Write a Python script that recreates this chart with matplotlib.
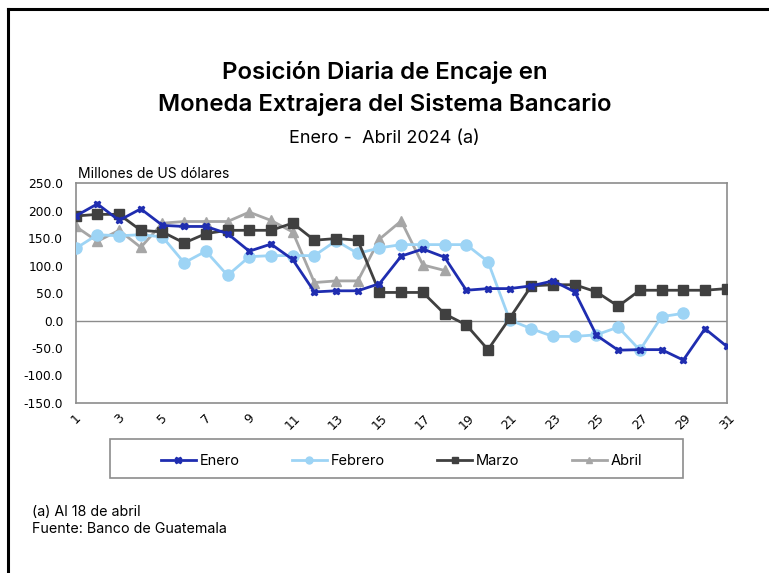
import matplotlib
matplotlib.use("Agg")
import matplotlib.pyplot as plt
from matplotlib.lines import Line2D
from matplotlib.patches import Rectangle

days_enero = list(range(1, 32))
days_febrero = list(range(1, 30))
days_marzo = list(range(1, 32))
days_abril = list(range(1, 19))

enero = [190, 212, 182, 203, 173, 171, 171, 158, 126, 139, 111,
         52, 54, 54, 67, 117, 130, 115, 55, 58, 58,
         63, 72, 52, -27, -54, -53, -53, -72, -15, -47]
febrero = [131, 156, 154, 156, 152, 105, 126, 82, 116, 118, 118,
           118, 145, 122, 132, 138, 138, 138, 138, 107, 1,
           -15, -29, -29, -26, -12, -54, 7, 13]
marzo = [190, 193, 193, 164, 161, 141, 158, 164, 164, 164, 177,
         146, 149, 146, 51, 51, 51, 12, -8, -53, 4,
         63, 65, 65, 52, 26, 55, 55, 55, 55, 58]
abril = [171, 144, 164, 133, 177, 180, 180, 180, 197, 182, 161,
         69, 72, 72, 148, 181, 101, 91]

xticks = list(range(1, 32, 2))
yticks = [250, 200, 150, 100, 50, 0, -50, -100, -150]

fig = plt.figure(figsize=(7.69, 5.73), dpi=100)
ax = fig.add_axes([0.0984, 0.2967, 0.8466, 0.3839])

ax.plot(days_enero, enero, color="#1F2DB0", lw=2, marker="X", ms=5, label="Enero", zorder=5)
ax.plot(days_febrero, febrero, color="#9DD4F5", lw=2, marker="o", ms=8, label="Febrero", zorder=3)
ax.plot(days_marzo, marzo, color="#404040", lw=2, marker="s", ms=7, label="Marzo", zorder=4)
ax.plot(days_abril, abril, color="#A6A6A6", lw=2, marker="^", ms=7, label="Abril", zorder=2)

ax.axhline(0, color="#8C8C8C", lw=1, zorder=1)
ax.set_xlim(1, 31)
ax.set_ylim(-150, 250)
ax.set_xticks(xticks)
ax.set_xticklabels([str(t) for t in xticks], rotation=45, ha="center", va="top",
                   fontsize=9, family="DejaVu Sans")
ax.set_yticks(yticks)
ax.set_yticklabels([f"{t:.1f}" for t in yticks], fontsize=8.8, family="DejaVu Sans")
ax.tick_params(axis="y", length=0, pad=9)
ax.tick_params(axis="x", length=0, pad=6)
for s in ax.spines.values():
    s.set_color("#8C8C8C")
    s.set_linewidth(1.2)

# legend frame (fixed width box) and centered legend entries
fig.add_artist(Rectangle((0.143, 0.165), 0.745, 0.068, transform=fig.transFigure,
                         fill=False, edgecolor="#8C8C8C", lw=1.2))
leg = fig.legend(loc="center", bbox_to_anchor=(0.522, 0.196),
                 ncol=4, frameon=False,
                 prop={"family": "Inter", "size": 10.5}, handlelength=2.4,
                 handletextpad=0.27, columnspacing=3.57, borderaxespad=0)
for h in leg.legend_handles:
    h.set_markersize(5)

fig.text(0.5, 0.873, "Posición Diaria de Encaje en", ha="center", va="center",
         fontsize=17.3, family="Inter", weight="semibold")
fig.text(0.5, 0.818, "Moneda Extrajera del Sistema Bancario", ha="center", va="center",
         fontsize=17.3, family="Inter", weight="semibold")
fig.text(0.5, 0.759, "Enero -  Abril 2024 (a)", ha="center", va="center",
         fontsize=13, family="Inter")
fig.text(0.102, 0.697, "Millones de US dólares", ha="left", va="center",
         fontsize=10, family="Inter")
fig.text(0.0416, 0.107, "(a) Al 18 de abril", ha="left", va="center",
         fontsize=10.3, family="Inter")
fig.text(0.0416, 0.0768, "Fuente: Banco de Guatemala", ha="left", va="center",
         fontsize=10.3, family="Inter")

fig.add_artist(Line2D([0.0105, 0.0105], [0, 0.984], transform=fig.transFigure,
                      color="black", lw=2.2))
fig.add_artist(Line2D([0.0105, 1.0], [0.984, 0.984], transform=fig.transFigure,
                      color="black", lw=2.2))

fig.savefig("out.png", dpi=100)
